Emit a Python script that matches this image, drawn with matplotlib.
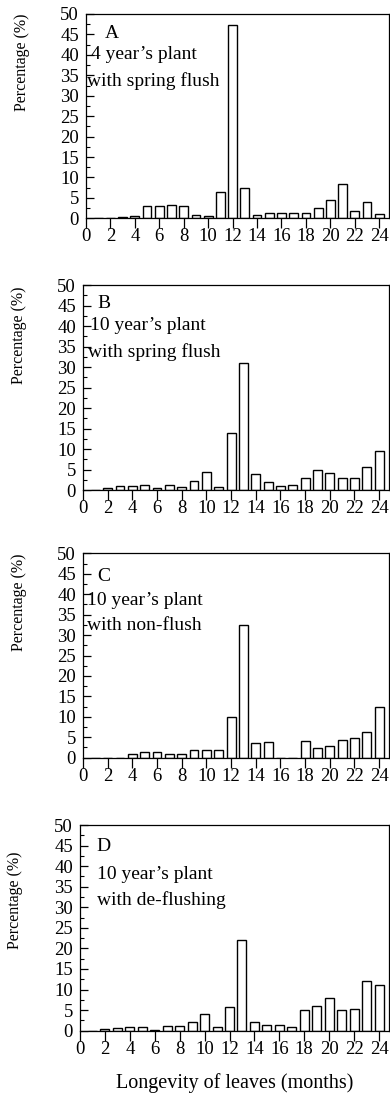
import matplotlib
matplotlib.use("Agg")
import matplotlib.pyplot as plt
from matplotlib.ticker import MultipleLocator

plt.rcParams["font.family"] = "Liberation Serif"

months = list(range(1, 25))
x_ticks = list(range(0, 25, 2))
y_ticks = list(range(0, 51, 5))

# leaf longevity distribution (% of leaves) per month class
pct_a = [0, 0, 0.2, 0.5, 2.9, 2.9, 3.2, 2.9, 0.8, 0.5, 6.4, 47.3,
         7.3, 0.7, 1.2, 1.2, 1.2, 1.2, 2.4, 4.5, 8.3, 1.9, 4.0, 1.0]
pct_b = [0, 0.5, 0.9, 0.9, 1.1, 0.5, 1.1, 0.7, 2.2, 4.5, 0.7, 14.0,
         30.9, 3.8, 1.9, 0.9, 1.1, 3.0, 4.9, 4.1, 3.0, 3.0, 5.5, 9.4]
pct_c = [0, 0, 0, 0.8, 1.5, 1.5, 0.9, 0.9, 2.0, 1.9, 1.9, 9.9,
         32.4, 3.5, 3.8, 0, 0, 4.0, 2.3, 2.8, 4.3, 4.7, 6.4, 12.3]
pct_d = [0, 0.5, 0.7, 0.9, 1.0, 0.2, 1.1, 1.1, 2.0, 4.1, 1.0, 5.8,
         22.0, 2.0, 1.5, 1.5, 0.8, 5.0, 6.0, 8.0, 5.0, 5.2, 12.0, 11.2]

panels = [
    ("A", "4 year\u2019s plant", "with spring flush", pct_a),
    ("B", "10 year\u2019s plant", "with spring flush", pct_b),
    ("C", "10 year\u2019s plant", "with non-flush", pct_c),
    ("D", "10 year\u2019s plant", "with de-flushing", pct_d),
]

W, H = 390, 1108
# pixel boxes: left, top, bottom
boxes = [(86, 14, 218.3), (83, 285, 490), (83, 553.3, 757.7), (80, 825, 1030.7)]
# text anchors: letter, first line, second line (data coords)
txt = [((1.55, 45.3), (0.4, 40.0), (0.1, 33.5)),
       ((1.15, 45.6), (0.57, 40.2), (0.4, 33.7)),
       ((1.15, 44.3), (0.33, 38.5), (0.33, 32.4)),
       ((1.3, 44.8), (1.4, 37.9), (1.4, 31.8))]
ylab_y = [38.2, 37.8, 38.0, 31.8]

fig = plt.figure(figsize=(W / 100, H / 100), dpi=100)

for i, (letter, l1, l2, vals) in enumerate(panels):
    left, top, bot = boxes[i]
    right = 389
    ax = fig.add_axes([left / W, 1 - bot / H, (right - left) / W, (bot - top) / H])
    ax.bar(months, vals, width=0.72, color="white", edgecolor="black", linewidth=1.0)
    ax.set_xlim(0, 24.8)
    ax.set_ylim(0, 50)
    ax.set_xticks(x_ticks)
    ax.set_yticks(y_ticks)
    ax.yaxis.set_minor_locator(MultipleLocator(2.5))
    ax.tick_params(axis="x", direction="out", length=7, width=0.9, pad=0.3, labelsize=13.5)
    ax.tick_params(axis="y", which="major", direction="in", length=6, width=0.9, pad=5, labelsize=13.5)
    ax.tick_params(axis="y", which="minor", direction="in", length=3, width=0.8)
    for s in ax.spines.values():
        s.set_linewidth(0.9)
    (lx, ly), (ax1, ay1), (ax2, ay2) = txt[i]
    ax.text(lx, ly, letter, ha="left", va="center", fontsize=14)
    ax.text(ax1, ay1, l1, ha="left", va="center", fontsize=14)
    ax.text(ax2, ay2, l2, ha="left", va="center", fontsize=14)
    ax.text(-0.21, ylab_y[i], "Percentage (%)", transform=ax.get_yaxis_transform(),
            rotation=90, ha="center", va="center", fontsize=11.5)
    if i == 3:
        ax.set_xlabel("Longevity of leaves (months)", fontsize=14.5, labelpad=11)

fig.savefig("out.png", dpi=100, facecolor="white")
